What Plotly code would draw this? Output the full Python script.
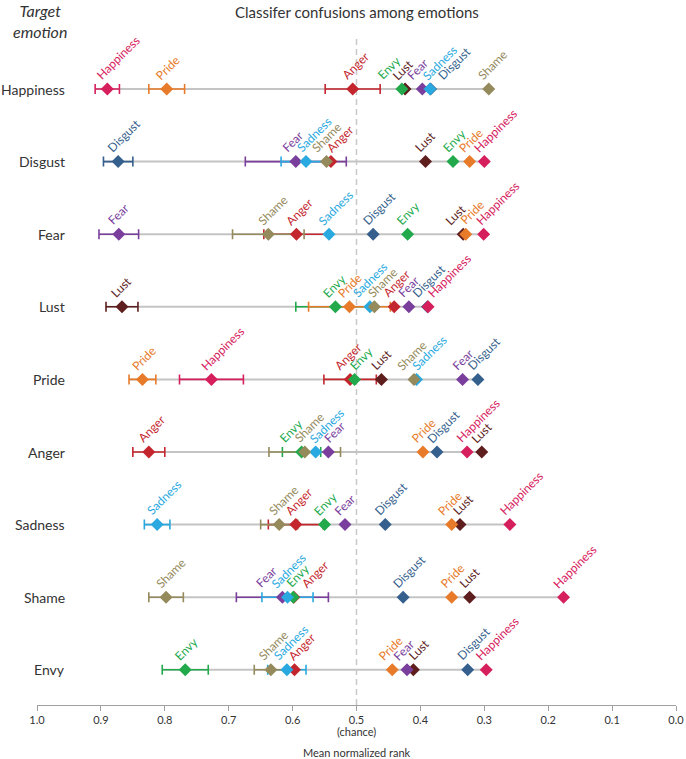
import plotly.graph_objects as go

# ---------------- data ----------------
targets = ["Happiness", "Disgust", "Fear", "Lust", "Pride", "Anger", "Sadness", "Shame", "Envy"]
tick_vals = [1.0, 0.9, 0.8, 0.7, 0.6, 0.5, 0.4, 0.3, 0.2, 0.1, 0.0]

# mean normalized rank of each confusion category, one entry per target row
happiness = [0.890, 0.300, 0.301, 0.388, 0.727, 0.327, 0.260, 0.176, 0.297]
disgust   = [0.384, 0.873, 0.474, 0.389, 0.310, 0.374, 0.455, 0.427, 0.326]
fear      = [0.397, 0.595, 0.872, 0.418, 0.334, 0.544, 0.518, 0.616, 0.421]
lust      = [0.424, 0.392, 0.333, 0.867, 0.461, 0.304, 0.338, 0.323, 0.411]
pride     = [0.797, 0.323, 0.329, 0.511, 0.835, 0.396, 0.351, 0.351, 0.444]
anger     = [0.506, 0.540, 0.594, 0.441, 0.510, 0.825, 0.595, 0.598, 0.597]
envy      = [0.429, 0.349, 0.420, 0.533, 0.503, 0.586, 0.550, 0.599, 0.768]
sadness   = [0.385, 0.579, 0.543, 0.479, 0.406, 0.564, 0.812, 0.608, 0.609]
shame     = [0.293, 0.547, 0.638, 0.472, 0.410, 0.581, 0.621, 0.798, 0.634]

# half-width of error bars (None = not shown)
happiness_err = [0.019, None, None, None, 0.050, None, None, None, None]
disgust_err   = [None, 0.023, None, None, None, None, None, None, None]
fear_err      = [None, 0.079, 0.031, None, None, None, None, 0.072, None]
lust_err      = [None, None, None, 0.025, None, None, None, None, None]
pride_err     = [0.028, None, None, 0.064, 0.021, None, None, None, None]
anger_err     = [0.043, None, 0.051, None, 0.041, 0.025, 0.043, None, None]
envy_err      = [None, None, None, 0.062, None, 0.030, None, None, 0.036]
sadness_err   = [None, 0.039, None, None, None, None, 0.020, 0.040, 0.030]
shame_err     = [None, None, 0.056, None, None, 0.056, 0.029, 0.027, 0.026]

# ---------------- styling ----------------
colors = {
    "Happiness": "#D6205D", "Pride": "#E87B2A", "Anger": "#C4262E",
    "Envy": "#22A94C", "Lust": "#5E1E1E", "Fear": "#7A3F9D",
    "Sadness": "#29A9E0", "Disgust": "#355F8D", "Shame": "#948A5C",
}
series = {
    "Disgust": (disgust, disgust_err), "Lust": (lust, lust_err),
    "Anger": (anger, anger_err), "Fear": (fear, fear_err),
    "Envy": (envy, envy_err), "Sadness": (sadness, sadness_err),
    "Shame": (shame, shame_err), "Pride": (pride, pride_err),
    "Happiness": (happiness, happiness_err),
}

W, H = 686, 759
ML, MR, MT, MB = 37, 10, 20, 54
PW = W - ML - MR
PH = H - MT - MB
ROW0_PX, ROW_STEP = 89, 72.6
y_top = (MT - ROW0_PX) / ROW_STEP
y_bot = (H - MB - ROW0_PX) / ROW_STEP
FONT = "Lato, 'Open Sans', sans-serif"
TXT = "#333333"

fig = go.Figure()

# grey row lines
gx, gy = [], []
for r in range(len(targets)):
    lo, hi = 1e9, -1e9
    for name, (vals, errs) in series.items():
        e = errs[r] or 0
        lo = min(lo, vals[r] - e)
        hi = max(hi, vals[r] + e)
    gx += [hi, lo, None]
    gy += [r, r, None]
fig.add_trace(go.Scatter(x=gx, y=gy, mode="lines", line=dict(color="#C4C4C4", width=2),
                         hoverinfo="skip", showlegend=False))

# error bars
for name, (vals, errs) in series.items():
    xs = [vals[r] for r in range(len(targets)) if errs[r]]
    ys = [r for r in range(len(targets)) if errs[r]]
    es = [errs[r] for r in range(len(targets)) if errs[r]]
    if xs:
        fig.add_trace(go.Scatter(x=xs, y=ys, mode="markers", marker=dict(size=1, opacity=0),
                                 error_x=dict(type="data", array=es, color=colors[name],
                                              thickness=1.6, width=5),
                                 hoverinfo="skip", showlegend=False))

# markers
for name, (vals, errs) in series.items():
    fig.add_trace(go.Scatter(x=vals, y=list(range(len(targets))), mode="markers",
                             marker=dict(symbol="diamond", size=10, color=colors[name],
                                         line=dict(width=0)),
                             name=name, showlegend=False))

# labels with simple collision avoidance
GAP = 15.0
def place(desired):
    clusters = [[d] for d in desired]
    def start(c):
        return sum(c) / len(c) - GAP * (len(c) - 1) / 2
    merged = True
    while merged:
        merged = False
        out = []
        for c in clusters:
            if out and start(out[-1]) + GAP * len(out[-1]) > start(c) + 1e-9:
                out[-1] = out[-1] + c
                merged = True
            else:
                out.append(c)
        clusters = out
    pos = []
    for c in clusters:
        s = start(c)
        pos += [s + GAP * i for i in range(len(c))]
    return pos

BOX_DX = 12
annotations = []
for r in range(len(targets)):
    items = sorted(((1 - vals[r]) * PW, name) for name, (vals, errs) in series.items())
    pos = place([p for p, _ in items])
    for (p, name), s in zip(items, pos):
        sx = s - 3 - BOX_DX
        annotations.append(dict(x=1 - sx / PW, y=r, xref="x", yref="y", text=name,
                                showarrow=False, textangle=-45, xanchor="left", yanchor="bottom",
                                yshift=5, borderpad=0,
                                font=dict(family=FONT, size=12, color=colors[name])))
    annotations.append(dict(x=1 - 30 / PW, y=r, xref="x", yref="y", text=targets[r],
                            showarrow=False, xanchor="right", yanchor="middle",
                            font=dict(family=FONT, size=14, color=TXT)))

def py(px):
    return (H - MB - px) / PH

annotations += [
    dict(x=0.5, y=py(12), xref="x", yref="paper", text="Classifer confusions among emotions",
         showarrow=False, xanchor="center", yanchor="middle",
         font=dict(family=FONT, size=15, color=TXT)),
    dict(x=1 - 3 / PW, y=py(21), xref="x", yref="paper", text="<i>Target<br>emotion</i>",
         showarrow=False, xanchor="center", yanchor="middle",
         font=dict(family=FONT, size=16, color=TXT)),
    dict(x=0.5, y=py(731), xref="x", yref="paper", text="(chance)",
         showarrow=False, xanchor="center", yanchor="middle",
         font=dict(family=FONT, size=11, color=TXT)),
    dict(x=0.5, y=py(752), xref="x", yref="paper", text="Mean normalized rank",
         showarrow=False, xanchor="center", yanchor="middle",
         font=dict(family=FONT, size=11, color=TXT)),
]

fig.add_shape(type="line", x0=0.5, x1=0.5, xref="x", yref="paper", y0=0, y1=py(39),
              line=dict(color="#C8C8C8", width=1.5, dash="6px,4px"), layer="below")

fig.update_layout(
    width=W, height=H, margin=dict(l=ML, r=MR, t=MT, b=MB, autoexpand=False),
    plot_bgcolor="white", paper_bgcolor="white", showlegend=False,
    annotations=annotations,
    xaxis=dict(range=[1.0, 0.0], tickvals=tick_vals, ticktext=[f"{v:.1f}" for v in tick_vals],
               automargin=False,
               showgrid=False, zeroline=False, showline=True, linecolor="#A0A0A0", linewidth=1,
               ticks="outside", ticklen=5, tickcolor="#A0A0A0",
               tickfont=dict(family=FONT, size=11, color=TXT)),
    yaxis=dict(range=[y_bot, y_top], showgrid=False, zeroline=False, showticklabels=False,
               showline=False, automargin=False),
    font=dict(family=FONT),
)

fig.write_html("out.html",
               config={"displayModeBar": False, "responsive": False},
               post_script="document.body.style.margin='0';")
